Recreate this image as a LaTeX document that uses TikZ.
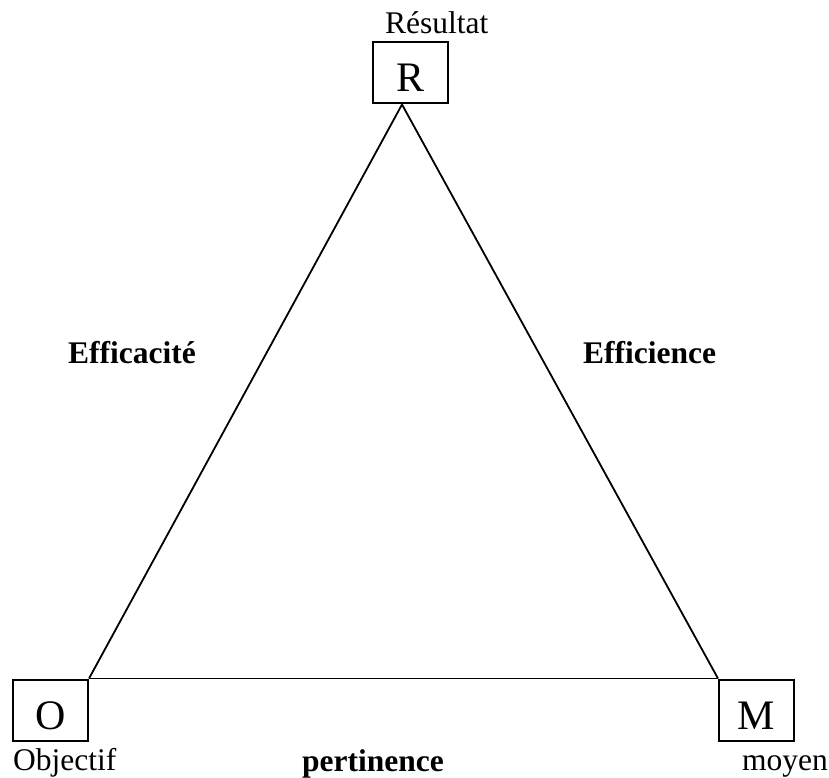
\documentclass[tikz,border=0pt]{standalone}
\usepackage{fontspec}
\setmainfont{Liberation Serif}
\begin{document}
\begin{tikzpicture}[x=1pt,y=-1pt,
  letterbox/.style={draw,line width=2pt,minimum width=75pt,minimum height=61pt,inner sep=0pt,
    font=\fontsize{42}{46}\selectfont,text height=38pt,text depth=0pt},
  lbl/.style={anchor=base west,inner sep=0pt,font=\fontsize{31.5}{36}\selectfont},
  blbl/.style={lbl,font=\fontsize{31.5}{36}\selectfont\bfseries},
  edge/.style={line width=1.8pt}]
\useasboundingbox (0,0) rectangle (829,778);
\node[letterbox] (R) at (410.5,73) {R};
\node[letterbox] (O) at (50.5,710) {O};
\node[letterbox] (M) at (756.5,710) {M};
\coordinate (apex) at ([xshift=-8.5pt]R.south);
\draw[edge] (apex) -- (O.north east);
\draw[edge] (apex) -- (M.north west);
\draw[edge] (O.north east) -- (M.north west);
\node[lbl] (tres) at (385,34) {Résultat};
\node[lbl] (tobj) at (13,770) {Objectif};
\node[lbl] (tmoy) at (742,770) {moyen};
\node[blbl] (teffa) at (68,363) {Efficacité};
\node[blbl] (teffi) at (583,363) {Efficience};
\node[blbl] (tpert) at (302,771) {pertinence};
\end{tikzpicture}
\end{document}
